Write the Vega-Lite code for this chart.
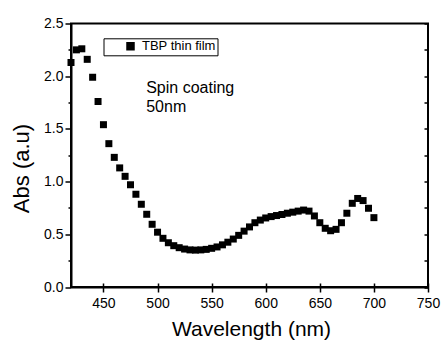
{
  "$schema": "https://vega.github.io/schema/vega-lite/v6.json",
  "width": 357,
  "height": 263.5,
  "autosize": "none",
  "padding": {"left": 71, "top": 23.5, "right": 15, "bottom": 58},
  "background": "white",
  "config": {
    "view": {"stroke": "black", "strokeWidth": 2},
    "font": "Liberation Sans",
    "axis": {
      "domainColor": "black", "tickColor": "black", "labelColor": "black", "titleColor": "black",
      "labelFont": "Liberation Sans", "titleFont": "Liberation Sans",
      "domainWidth": 2, "tickWidth": 1.5, "labelFontSize": 14, "titleFontWeight": "normal",
      "labelFlush": false, "labelOverlap": false,
      "gridColor": "black", "gridOpacity": 1, "gridWidth": 1.5
    }
  },
  "data": {"values": [
    {"wl": 420, "abs": 2.13}, {"wl": 425, "abs": 2.25}, {"wl": 430, "abs": 2.26}, {"wl": 435, "abs": 2.16},
    {"wl": 440, "abs": 1.99}, {"wl": 445, "abs": 1.76}, {"wl": 450, "abs": 1.54}, {"wl": 455, "abs": 1.36},
    {"wl": 460, "abs": 1.23}, {"wl": 465, "abs": 1.13}, {"wl": 470, "abs": 1.05}, {"wl": 475, "abs": 0.97},
    {"wl": 480, "abs": 0.88}, {"wl": 485, "abs": 0.785}, {"wl": 490, "abs": 0.69}, {"wl": 495, "abs": 0.595},
    {"wl": 500, "abs": 0.52}, {"wl": 505, "abs": 0.462}, {"wl": 510, "abs": 0.42}, {"wl": 515, "abs": 0.392},
    {"wl": 520, "abs": 0.373}, {"wl": 525, "abs": 0.36}, {"wl": 530, "abs": 0.352}, {"wl": 535, "abs": 0.35},
    {"wl": 540, "abs": 0.352}, {"wl": 545, "abs": 0.357}, {"wl": 550, "abs": 0.367}, {"wl": 555, "abs": 0.38},
    {"wl": 560, "abs": 0.4}, {"wl": 565, "abs": 0.425}, {"wl": 570, "abs": 0.455}, {"wl": 575, "abs": 0.49},
    {"wl": 580, "abs": 0.53}, {"wl": 585, "abs": 0.57}, {"wl": 590, "abs": 0.61}, {"wl": 595, "abs": 0.635},
    {"wl": 600, "abs": 0.655}, {"wl": 605, "abs": 0.668}, {"wl": 610, "abs": 0.678}, {"wl": 615, "abs": 0.688},
    {"wl": 620, "abs": 0.7}, {"wl": 625, "abs": 0.71}, {"wl": 630, "abs": 0.72}, {"wl": 635, "abs": 0.73},
    {"wl": 640, "abs": 0.72}, {"wl": 645, "abs": 0.674}, {"wl": 650, "abs": 0.61}, {"wl": 655, "abs": 0.557},
    {"wl": 660, "abs": 0.534}, {"wl": 665, "abs": 0.547}, {"wl": 670, "abs": 0.61}, {"wl": 675, "abs": 0.7},
    {"wl": 680, "abs": 0.794}, {"wl": 685, "abs": 0.84}, {"wl": 690, "abs": 0.82}, {"wl": 695, "abs": 0.747},
    {"wl": 700, "abs": 0.658}
  ]},
  "layer": [
    {
      "mark": {"type": "point", "shape": "square", "filled": true, "size": 49, "opacity": 1},
      "encoding": {
        "x": {"field": "wl", "type": "quantitative",
          "scale": {"domain": [420, 750], "nice": false, "zero": false},
          "axis": {"orient": "bottom",
            "values": [450, 500, 550, 600, 650, 700, 750],
            "tickSize": 5, "labelPadding": 4,
            "grid": true, "gridDash": [0, 259.5, 4, 100],
            "title": "Wavelength (nm)", "titleFontSize": 21, "titleX": 180, "titleY": 48, "titleBaseline": "alphabetic", "titleAlign": "center"}},
        "y": {"field": "abs", "type": "quantitative",
          "scale": {"domain": [0, 2.5], "nice": false, "zero": false},
          "axis": {"orient": "left",
            "values": [0, 0.25, 0.5, 0.75, 1, 1.25, 1.5, 1.75, 2, 2.25, 2.5],
            "format": ".1f",
            "labelExpr": "(datum.value * 4) % 2 === 0 ? datum.label : ''",
            "tickSize": {"condition": {"test": "(datum.value * 4) % 2 !== 0", "value": 3}, "value": 6},
            "labelPadding": 2,
            "grid": true, "gridDash": [0, 353, 4, 100],
            "title": "Abs (a.u)", "titleFontSize": 22, "titleAngle": 270, "titleX": -42.5, "titleY": 144.5, "titleBaseline": "alphabetic", "titleAlign": "center"}},
        "color": {"datum": "TBP thin film", "type": "nominal",
          "scale": {"range": ["black"]},
          "legend": {"title": null, "orient": "none", "legendX": 32.5, "legendY": 14.8,
            "strokeColor": "black", "padding": 1.5, "symbolType": "square", "symbolSize": 49,
            "symbolOffset": 19, "labelOffset": 5, "labelFontSize": 13, "labelFont": "Liberation Sans", "labelColor": "black",
            "symbolFillColor": "black", "symbolStrokeColor": "black", "fillColor": "white"}}
      }
    },
    {
      "data": {"values": [{"note": "Spin coating 50nm"}]},
      "mark": {"type": "text", "align": "left", "baseline": "alphabetic", "fontSize": 16, "lineHeight": 18.4, "font": "Liberation Sans", "color": "black", "text": ["Spin coating", "50nm"]},
      "encoding": {
        "x": {"datum": 489.5, "type": "quantitative", "axis": null},
        "y": {"datum": 1.838, "type": "quantitative", "axis": null}
      }
    }
  ],
  "resolve": {"axis": {"x": "independent", "y": "independent"}}
}
